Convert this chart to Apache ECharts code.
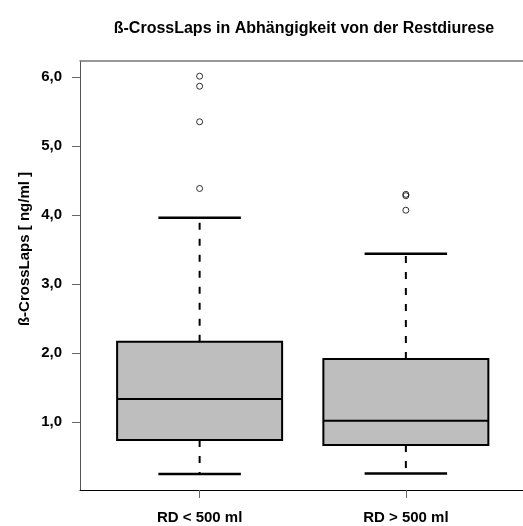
<!DOCTYPE html>
<html>
<head>
<meta charset="utf-8">
<script src="https://cdn.jsdelivr.net/npm/echarts@6/dist/echarts.min.js"></script>
<style>html,body{margin:0;padding:0;background:#fff;}#c{width:523px;height:526px;}</style>
</head>
<body>
<div id="c"></div>
<script>
var categories = ['RD < 500 ml', 'RD > 500 ml'];
var positions = [1, 2];
var lowerWhisker = [0.25, 0.26];
var q1 = [0.745, 0.672];
var median = [1.337, 1.023];
var q3 = [2.166, 1.916];
var upperWhisker = [3.96, 3.44];
var outliersLow = [6.01, 5.865, 5.35, 4.385];
var outliersHigh = [4.30, 4.28, 4.07];
var yTicks = [1, 2, 3, 4, 5, 6];
var titleText = 'ß-CrossLaps in Abhängigkeit von der Restdiurese';
var yName = 'ß-CrossLaps [ ng/ml ]';

var FONT = '"Liberation Sans", Arial, sans-serif';
var boxData = positions.map(function (p, i) {
  return [p, lowerWhisker[i], q1[i], median[i], q3[i], upperWhisker[i]];
});
var outlierData = [];
outliersLow.forEach(function (v) { outlierData.push([positions[0], v]); });
outliersHigh.forEach(function (v) { outlierData.push([positions[1], v]); });

var chart = echarts.init(document.getElementById('c'), null, {renderer: 'canvas'});
chart.setOption({
  backgroundColor: '#fff',
  animation: false,
  graphic: [
    {type: 'text', x: 304, y: 29, style: {text: titleText, font: 'bold 16px ' + FONT, fill: '#000', textAlign: 'center', textVerticalAlign: 'middle'}},
    {type: 'text', x: 25, y: 249, rotation: Math.PI / 2, style: {text: yName, font: 'bold 15px ' + FONT, fill: '#000', textAlign: 'center', textVerticalAlign: 'middle'}}
  ],
  grid: {left: 80, right: 0, top: 61, bottom: 36, containLabel: false},
  xAxis: [{
    type: 'value', min: 0.42, max: 2.568, position: 'bottom',
    splitLine: {show: false},
    axisLine: {show: true, onZero: false, lineStyle: {color: '#000', width: 1}},
    axisTick: {show: true, length: 8, lineStyle: {color: '#666', width: 1}, customValues: positions},
    axisLabel: {customValues: positions, margin: 20, formatter: function (v) { return categories[Math.round(v) - 1]; }, color: '#000', fontFamily: FONT, fontWeight: 'bold', fontSize: 15}
  }, {
    type: 'value', min: 0.42, max: 2.568, position: 'top',
    splitLine: {show: false},
    axisLine: {show: true, onZero: false, lineStyle: {color: '#777', width: 1.5}},
    axisTick: {show: false}, axisLabel: {show: false}
  }],
  yAxis: {
    type: 'value', min: 0.02, max: 6.23,
    splitLine: {show: false},
    axisLine: {show: true, onZero: false, lineStyle: {color: '#555', width: 1}},
    axisTick: {show: true, length: 8, lineStyle: {color: '#666', width: 1}, customValues: yTicks},
    axisLabel: {customValues: yTicks, margin: 18, formatter: function (v) { return v.toFixed(1).replace('.', ','); }, color: '#000', fontFamily: FONT, fontWeight: 'bold', fontSize: 15}
  },
  series: [{
    type: 'custom',
    data: boxData,
    encode: {x: 0, y: [1, 2, 3, 4, 5]},
    renderItem: function (params, api) {
      var x = api.value(0);
      var lw = api.coord([x, api.value(1)]);
      var b1 = api.coord([x, api.value(2)]);
      var md = api.coord([x, api.value(3)]);
      var b3 = api.coord([x, api.value(4)]);
      var uw = api.coord([x, api.value(5)]);
      var left = api.coord([x - 0.4, 0])[0];
      var right = api.coord([x + 0.4, 0])[0];
      var cl = api.coord([x - 0.2, 0])[0];
      var cr = api.coord([x + 0.2, 0])[0];
      var cx = lw[0];
      var dash = {stroke: '#000', lineWidth: 2, lineDash: [7, 9]};
      var solid = {stroke: '#000', lineWidth: 2};
      return {
        type: 'group',
        children: [
          {type: 'line', shape: {x1: cx, y1: b3[1], x2: cx, y2: uw[1]}, style: dash},
          {type: 'line', shape: {x1: cx, y1: b1[1], x2: cx, y2: lw[1]}, style: dash},
          {type: 'line', shape: {x1: cl, y1: uw[1], x2: cr, y2: uw[1]}, style: {stroke: '#000', lineWidth: 2.5}},
          {type: 'line', shape: {x1: cl, y1: lw[1], x2: cr, y2: lw[1]}, style: {stroke: '#000', lineWidth: 2.5}},
          {type: 'rect', shape: {x: left, y: b3[1], width: right - left, height: b1[1] - b3[1]}, style: {fill: '#bebebe', stroke: '#000', lineWidth: 2}},
          {type: 'line', shape: {x1: left, y1: md[1], x2: right, y2: md[1]}, style: solid}
        ]
      };
    }
  }, {
    type: 'scatter',
    data: outlierData,
    symbol: 'circle',
    symbolSize: 6,
    itemStyle: {color: 'rgba(0,0,0,0)', borderColor: '#000', borderWidth: 1}
  }]
});
</script>
</body>
</html>
